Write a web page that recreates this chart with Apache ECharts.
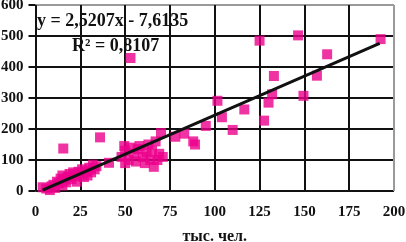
<!DOCTYPE html>
<html>
<head>
<meta charset="utf-8">
<script src="https://cdn.jsdelivr.net/npm/echarts@6/dist/echarts.min.js"></script>
<style>
  html, body { margin: 0; padding: 0; background: #fff; }
  #chart { width: 406px; height: 242px; }
</style>
</head>
<body>
<div id="chart"></div>
<script>
// точки: население (тыс. чел.) и значение
var pointsX = [4, 6, 8, 9, 10, 11, 12, 13, 14, 15, 15, 16, 17, 18, 19, 20, 21, 22, 23, 24,
  25, 26, 27, 28, 29, 30, 31, 32, 33, 34, 15.5, 36, 41, 50, 49.5,
  48, 50, 52, 53, 55, 56, 57, 58, 60, 61, 62, 63, 64, 65, 66, 67, 68, 69, 70, 71,
  53, 78, 83, 88, 89, 95, 101.5, 104, 110, 116.5, 125, 127.5, 130, 132, 133,
  146.5, 149.5, 157, 162.7, 192.5];
var pointsY = [12, 8, 3, 15, 20, 10, 30, 25, 40, 18, 50, 35, 28, 45, 55, 38, 60, 48, 30, 62,
  55, 70, 45, 65, 50, 75, 60, 85, 70, 80, 137, 173, 91, 90, 145,
  110, 130, 100, 140, 120, 95, 135, 145, 110, 90, 125, 150, 100, 130, 78, 160, 100, 120, 187, 110,
  429, 175, 185, 160, 150, 210, 291, 238, 197, 263, 485, 227, 285, 312, 371,
  502, 307, 372, 441, 490];
// линия тренда (концы)
var trendX = [4, 192];
var trendY = [2.5, 476];
var xTicks = [0, 25, 50, 75, 100, 125, 150, 175, 200];
var yTicks = [0, 100, 200, 300, 400, 500, 600];

var scatterData = [];
for (var i = 0; i < pointsX.length; i++) {
  scatterData.push([pointsX[i], pointsY[i]]);
}
var trendData = [];
for (var j = 0; j < trendX.length; j++) {
  trendData.push([trendX[j], trendY[j]]);
}

var serif = '"Liberation Serif", "DejaVu Serif", serif';
var xColors = xTicks.map(function (v, k) { return k === xTicks.length - 1 ? '#9a9a9a' : '#111'; });
var yColors = yTicks.map(function (v, k) { return k === yTicks.length - 1 ? '#9a9a9a' : '#111'; });

var myChart = echarts.init(document.getElementById('chart'));
myChart.setOption({
  animation: false,
  backgroundColor: '#fff',
  grid: { left: 35.5, top: 5, right: 12, bottom: 51, containLabel: false, outerBoundsMode: 'none' },
  xAxis: {
    type: 'value',
    min: xTicks[0],
    max: xTicks[xTicks.length - 1],
    interval: 25,
    name: 'тыс. чел.',
    nameLocation: 'middle',
    nameGap: 38,
    nameTextStyle: { fontFamily: serif, fontWeight: 'bold', fontSize: 16, color: '#111' },
    axisLine: { show: false },
    axisTick: { show: false },
    axisLabel: { fontFamily: serif, fontWeight: 'bold', fontSize: 15, color: '#111', margin: 14 },
    splitLine: { show: true, lineStyle: { color: xColors, width: 2 } }
  },
  yAxis: {
    type: 'value',
    min: yTicks[0],
    max: yTicks[yTicks.length - 1],
    interval: 100,
    axisLine: { show: false },
    axisTick: { show: true, inside: false, length: 7, lineStyle: { color: '#111', width: 2 } },
    axisLabel: { fontFamily: serif, fontWeight: 'bold', fontSize: 15, color: '#111', margin: 12 },
    splitLine: { show: true, lineStyle: { color: yColors, width: 2 } }
  },
  graphic: [
    { type: 'text', left: 37, top: 12, style: { text: 'y = 2,5207x - 7,6135', font: 'bold 18px ' + serif, fill: '#111' } },
    { type: 'text', left: 72, top: 37, style: { text: 'R² = 0,8107', font: 'bold 18px ' + serif, fill: '#111' } }
  ],
  series: [
    {
      type: 'scatter',
      data: scatterData,
      symbol: 'rect',
      symbolSize: 10,
      itemStyle: { color: '#ec008c' },
      z: 3
    },
    {
      type: 'line',
      data: trendData,
      symbol: 'none',
      lineStyle: { color: '#111', width: 3 },
      z: 4
    }
  ]
});
</script>
</body>
</html>
